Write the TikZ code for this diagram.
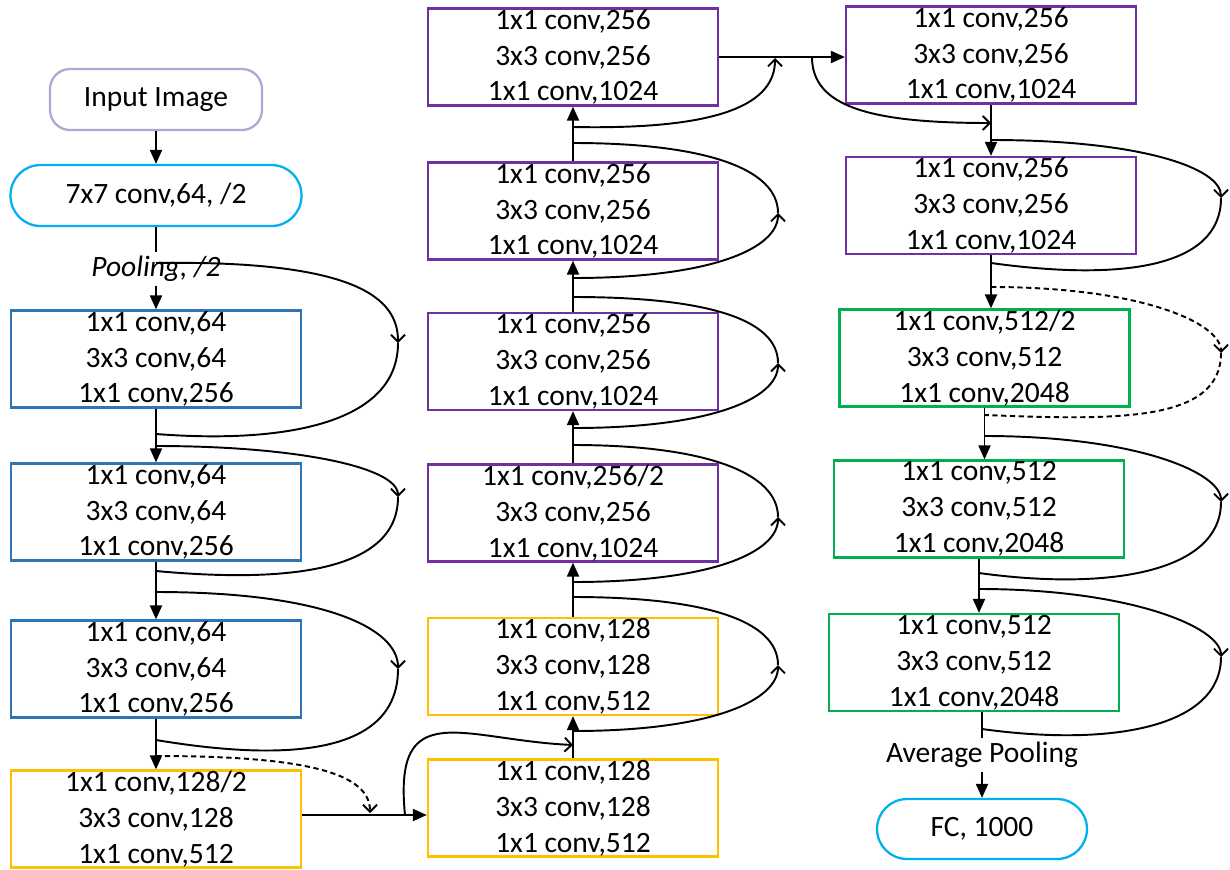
\documentclass[tikz,border=0pt]{standalone}
\usepackage{fontspec}
\setmainfont{Carlito}
\usetikzlibrary{arrows.meta}

\definecolor{inpLine}{RGB}{180,165,210}
\definecolor{cyanLine}{RGB}{0,176,240}
\definecolor{blueLine}{RGB}{46,117,182}
\definecolor{goldLine}{RGB}{255,192,0}
\definecolor{purpLine}{RGB}{112,48,160}
\definecolor{greenLine}{RGB}{0,176,80}

\begin{document}
\begin{tikzpicture}[
        x=0.02cm, y=-0.02cm,
        font=\fontsize{16.8pt}{20.4pt}\selectfont,
        blk/.style={draw, line width=1.3pt, fill=white, minimum width=5.8cm, minimum height=1.94cm, align=center, inner sep=0pt},
        blkBlue/.style={blk, draw=blueLine},
        blkGold/.style={blk, draw=goldLine},
        blkPurple/.style={blk, draw=purpLine},
        blkGreen/.style={blk, draw=greenLine},
        term/.style={draw, line width=1.3pt, fill=white, rounded corners=0.6cm, minimum height=1.22cm, align=center},
        lbl/.style={inner sep=2pt, align=center},
        plainLine/.style={line width=1.1pt},
        flowArrow/.style={line width=1.1pt, -{Triangle[length=0.28cm, width=0.24cm]}},
        skipLine/.style={line width=1.1pt},
        skipTip/.style={skipLine, -{Straight Barb[length=0.14cm, width=0.28cm]}},
        dotted/.style={dash pattern=on 3pt off 2pt}
    ]

        \useasboundingbox (0,0) rectangle (1230,869);

        % ========================================================
        % COLUMNA 1
        % ========================================================
        \node[term, draw=inpLine, minimum width=4.24cm, rounded corners=0.4cm] (inp) at (156,99.5) {Input Image};
        \node[term, draw=cyanLine, minimum width=5.82cm] (conv7) at (156,195.5) {7x7 conv,64, /2};
        \node[lbl, font=\fontsize{16.8pt}{20.4pt}\selectfont\itshape] (pool) at (156,269) {Pooling, /2};

        \node[blkBlue] (c1a) at (156,359) {1x1 conv,64\\3x3 conv,64\\1x1 conv,256};
        \node[blkBlue] (c1b) at (156,512) {1x1 conv,64\\3x3 conv,64\\1x1 conv,256};
        \node[blkBlue] (c1c) at (156,669) {1x1 conv,64\\3x3 conv,64\\1x1 conv,256};
        \node[blkGold] (c1d) at (156,819) {1x1 conv,128/2\\3x3 conv,128\\1x1 conv,512};

        % ========================================================
        % COLUMNA 2
        % ========================================================
        \node[blkGold] (c2a) at (573,808) {1x1 conv,128\\3x3 conv,128\\1x1 conv,512};
        \node[blkGold] (c2b) at (573,666.5) {1x1 conv,128\\3x3 conv,128\\1x1 conv,512};
        \node[blkPurple] (c2c) at (573,513) {1x1 conv,256/2\\3x3 conv,256\\1x1 conv,1024};
        \node[blkPurple] (c2d) at (573,361.5) {1x1 conv,256\\3x3 conv,256\\1x1 conv,1024};
        \node[blkPurple] (c2e) at (573,211) {1x1 conv,256\\3x3 conv,256\\1x1 conv,1024};
        \node[blkPurple] (c2f) at (573,57) {1x1 conv,256\\3x3 conv,256\\1x1 conv,1024};

        % ========================================================
        % COLUMNA 3
        % ========================================================
        \node[blkPurple] (c3a) at (991,55) {1x1 conv,256\\3x3 conv,256\\1x1 conv,1024};
        \node[blkPurple] (c3b) at (991,205.5) {1x1 conv,256\\3x3 conv,256\\1x1 conv,1024};
        \node[blkGreen] (c3c) at (984.5,358) {1x1 conv,512/2\\3x3 conv,512\\1x1 conv,2048};
        \node[blkGreen] (c3d) at (979,509) {1x1 conv,512\\3x3 conv,512\\1x1 conv,2048};
        \node[blkGreen] (c3e) at (974,662.5) {1x1 conv,512\\3x3 conv,512\\1x1 conv,2048};
        \node[lbl] (avg) at (982,755) {Average Pooling};
        \node[term, draw=cyanLine, minimum width=4.2cm, minimum height=1.2cm] (fc) at (982,829) {FC, 1000};

        % ========================================================
        % FLUJO PRINCIPAL
        % ========================================================
        \coordinate (jn) at (405,815);

        \draw[flowArrow] (inp) -- (conv7);
        \draw[plainLine] (conv7) -- (pool);
        \draw[flowArrow] (pool) -- (c1a);
        \draw[flowArrow] (c1a) -- (c1b);
        \draw[flowArrow] (c1b) -- (c1c);
        \draw[flowArrow] (c1c) -- (c1d);
        \draw[flowArrow] (c1d.east |- jn) -- (c2a.west |- jn);

        \draw[flowArrow] (c2a) -- (c2b);
        \draw[flowArrow] (c2b) -- (c2c);
        \draw[flowArrow] (c2c) -- (c2d);
        \draw[flowArrow] (c2d) -- (c2e);
        \draw[flowArrow] (c2e) -- (c2f);
        \draw[flowArrow] (c2f.east) -- (c2f.east -| c3a.west);

        \draw[flowArrow] (c3a) -- (c3b);
        \draw[flowArrow] (c3b.south) -- (c3b.south |- c3c.north);
        \draw[flowArrow] (c3c.south) -- (c3c.south |- c3d.north);
        \draw[flowArrow] (c3d.south) -- (c3d.south |- c3e.north);
        \draw[plainLine] (c3e.south -| avg) -- (avg);
        \draw[flowArrow] (avg) -- (fc);

        % ========================================================
        % ATAJOS (SKIP)
        % ========================================================
        % columna 1
        \coordinate (k1s) at (156,263);  \coordinate (k1t) at (398,343);  \coordinate (k1e) at (156,434);
        \coordinate (k2s) at (156,446);  \coordinate (k2t) at (398,497);  \coordinate (k2e) at (156,571);
        \coordinate (k3s) at (156,592);  \coordinate (k3t) at (398,669);  \coordinate (k3e) at (156,740);
        \coordinate (k4s) at (156,756);  \coordinate (k4t) at (370,813);
        \coordinate (k5t) at (573,745);

        \draw[skipTip] (k1s) .. controls +(200,-3) and +(0,-45) .. (k1t);
        \draw[skipLine] (k1t) .. controls +(0,80) and +(130,10) .. (k1e);
        \draw[skipTip] (k2s) .. controls +(140,0) and +(0,-30) .. (k2t);
        \draw[skipLine] (k2t) .. controls +(0,75) and +(130,12) .. (k2e);
        \draw[skipTip] (k3s) .. controls +(170,0) and +(0,-40) .. (k3t);
        \draw[skipLine] (k3t) .. controls +(0,90) and +(120,20) .. (k3e);
        \draw[skipTip, dotted] (k4s) .. controls +(150,0) and +(0,-40) .. (k4t);
        \draw[skipTip] (jn) .. controls +(-12,-120) and +(-110,-5) .. (k5t);

        % columna 2
        \coordinate (k6s) at (573,731);  \coordinate (k6t) at (778,665);  \coordinate (k6e) at (573,597);
        \coordinate (k7s) at (573,582);  \coordinate (k7t) at (778,517);  \coordinate (k7e) at (573,445);
        \coordinate (k8s) at (573,428);  \coordinate (k8t) at (778,363);  \coordinate (k8e) at (573,297);
        \coordinate (k9s) at (573,278);  \coordinate (k9t) at (778,213);  \coordinate (k9e) at (573,143);
        \coordinate (k10s) at (573,127); \coordinate (k10t) at (775,58);
        \coordinate (k11s) at (812,57);  \coordinate (k11t) at (991,123);

        \draw[skipTip] (k6s) .. controls +(140,0) and +(0,35) .. (k6t);
        \draw[skipLine] (k6t) .. controls +(0,-45) and +(130,0) .. (k6e);
        \draw[skipTip] (k7s) .. controls +(140,0) and +(0,35) .. (k7t);
        \draw[skipLine] (k7t) .. controls +(0,-45) and +(130,0) .. (k7e);
        \draw[skipTip] (k8s) .. controls +(140,0) and +(0,35) .. (k8t);
        \draw[skipLine] (k8t) .. controls +(0,-45) and +(130,0) .. (k8e);
        \draw[skipTip] (k9s) .. controls +(140,0) and +(0,35) .. (k9t);
        \draw[skipLine] (k9t) .. controls +(0,-45) and +(130,0) .. (k9e);
        \draw[skipTip] (k10s) .. controls +(150,3) and +(0,45) .. (k10t);
        \draw[skipTip] (k11s) .. controls +(0,50) and +(-120,0) .. (k11t);

        % columna 3
        \coordinate (k12s) at (991,140);   \coordinate (k12t) at (1221,198); \coordinate (k12e) at (991,263);
        \coordinate (k13s) at (991,287);   \coordinate (k13t) at (1221,353); \coordinate (k13e) at (984.5,415);
        \coordinate (k14s) at (984.5,436); \coordinate (k14t) at (1221,502); \coordinate (k14e) at (979,573);
        \coordinate (k15s) at (979,589);   \coordinate (k15t) at (1221,657); \coordinate (k15e) at (982,729);

        \draw[skipTip] (k12s) .. controls +(150,0) and +(0,-30) .. (k12t);
        \draw[skipLine] (k12t) .. controls +(0,70) and +(130,18) .. (k12e);
        \draw[skipTip, dotted] (k13s) .. controls +(150,0) and +(0,-30) .. (k13t);
        \draw[skipLine, dotted] (k13t) .. controls +(0,70) and +(130,5) .. (k13e);
        \draw[skipTip] (k14s) .. controls +(150,0) and +(0,-30) .. (k14t);
        \draw[skipLine] (k14t) .. controls +(0,70) and +(130,18) .. (k14e);
        \draw[skipTip] (k15s) .. controls +(150,0) and +(0,-30) .. (k15t);
        \draw[skipLine] (k15t) .. controls +(0,70) and +(130,18) .. (k15e);

    \end{tikzpicture}
\end{document}
